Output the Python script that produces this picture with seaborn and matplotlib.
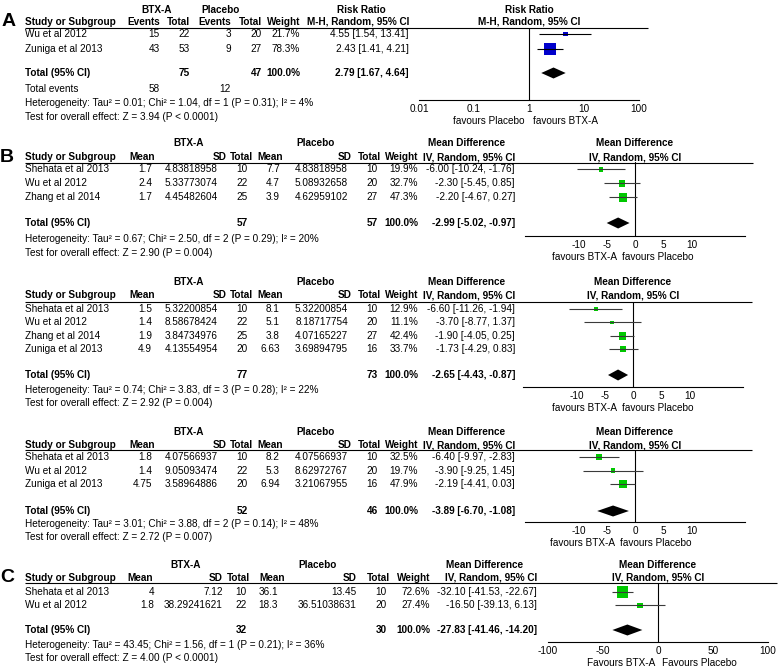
import matplotlib
matplotlib.use("Agg")
import matplotlib.pyplot as plt
import numpy as np
import pandas as pd
import seaborn as sns

# -----------------------------
# Data
# -----------------------------
# A: risk ratio
a_studies = ["Wu et al 2012", "Zuniga et al 2013"]
a_btx_events = [15, 43]
a_btx_total = [22, 53]
a_pla_events = [3, 9]
a_pla_total = [20, 27]
a_weight = [21.7, 78.3]
a_est = [4.55, 2.43]
a_lo = [1.54, 1.41]
a_hi = [13.41, 4.21]
a_pooled = [2.79, 1.67, 4.64]
a_het = "Heterogeneity: Tau² = 0.01; Chi² = 1.04, df = 1 (P = 0.31); I² = 4%"
a_test = "Test for overall effect: Z = 3.94 (P < 0.0001)"
a_ticks = [0.01, 0.1, 1, 10, 100]
a_tick_labels = ["0.01", "0.1", "1", "10", "100"]

# B (first block)
b1_studies = ["Shehata et al 2013", "Wu et al 2012", "Zhang et al 2014"]
b1_btx_mean = [1.7, 2.4, 1.7]
b1_btx_sd = [4.83818958, 5.33773074, 4.45482604]
b1_btx_n = [10, 22, 25]
b1_pla_mean = [7.7, 4.7, 3.9]
b1_pla_sd = [4.83818958, 5.08932658, 4.62959102]
b1_pla_n = [10, 20, 27]
b1_weight = [19.9, 32.7, 47.3]
b1_est = [-6.00, -2.30, -2.20]
b1_lo = [-10.24, -5.45, -4.67]
b1_hi = [-1.76, 0.85, 0.27]
b1_pooled = [-2.99, -5.02, -0.97]
b1_het = "Heterogeneity: Tau² = 0.67; Chi² = 2.50, df = 2 (P = 0.29); I² = 20%"
b1_test = "Test for overall effect: Z = 2.90 (P = 0.004)"

# B (second block)
b2_studies = ["Shehata et al 2013", "Wu et al 2012", "Zhang et al 2014", "Zuniga et al 2013"]
b2_btx_mean = [1.5, 1.4, 1.9, 4.9]
b2_btx_sd = [5.32200854, 8.58678424, 3.84734976, 4.13554954]
b2_btx_n = [10, 22, 25, 20]
b2_pla_mean = [8.1, 5.1, 3.8, 6.63]
b2_pla_sd = [5.32200854, 8.18717754, 4.07165227, 3.69894795]
b2_pla_n = [10, 20, 27, 16]
b2_weight = [12.9, 11.1, 42.4, 33.7]
b2_est = [-6.60, -3.70, -1.90, -1.73]
b2_lo = [-11.26, -8.77, -4.05, -4.29]
b2_hi = [-1.94, 1.37, 0.25, 0.83]
b2_pooled = [-2.65, -4.43, -0.87]
b2_het = "Heterogeneity: Tau² = 0.74; Chi² = 3.83, df = 3 (P = 0.28); I² = 22%"
b2_test = "Test for overall effect: Z = 2.92 (P = 0.004)"

# B (third block)
b3_studies = ["Shehata et al 2013", "Wu et al 2012", "Zuniga et al 2013"]
b3_btx_mean = [1.8, 1.4, 4.75]
b3_btx_sd = [4.07566937, 9.05093474, 3.58964886]
b3_btx_n = [10, 22, 20]
b3_pla_mean = [8.2, 5.3, 6.94]
b3_pla_sd = [4.07566937, 8.62972767, 3.21067955]
b3_pla_n = [10, 20, 16]
b3_weight = [32.5, 19.7, 47.9]
b3_est = [-6.40, -3.90, -2.19]
b3_lo = [-9.97, -9.25, -4.41]
b3_hi = [-2.83, 1.45, 0.03]
b3_pooled = [-3.89, -6.70, -1.08]
b3_het = "Heterogeneity: Tau² = 3.01; Chi² = 3.88, df = 2 (P = 0.14); I² = 48%"
b3_test = "Test for overall effect: Z = 2.72 (P = 0.007)"

b_ticks = [-10, -5, 0, 5, 10]

# C
c_studies = ["Shehata et al 2013", "Wu et al 2012"]
c_btx_mean = [4, 1.8]
c_btx_sd = [7.12, 38.29241621]
c_btx_n = [10, 22]
c_pla_mean = [36.1, 18.3]
c_pla_sd = [13.45, 36.51038631]
c_pla_n = [10, 20]
c_weight = [72.6, 27.4]
c_est = [-32.10, -16.50]
c_lo = [-41.53, -39.13]
c_hi = [-22.67, 6.13]
c_pooled = [-27.83, -41.46, -14.20]
c_het = "Heterogeneity: Tau² = 43.45; Chi² = 1.56, df = 1 (P = 0.21); I² = 36%"
c_test = "Test for overall effect: Z = 4.00 (P < 0.0001)"
c_ticks = [-100, -50, 0, 50, 100]

# -----------------------------
# Figure setup
# -----------------------------
W, H, DPI = 778, 671, 100
FS = 7.2
BLUE = "#0000CC"
GREEN = "#00C800"

sns.set_style("white")
plt.rcParams["font.family"] = ["Liberation Sans", "DejaVu Sans"]
plt.rcParams["text.color"] = "black"
plt.rcParams["xtick.color"] = "black"
plt.rcParams["axes.edgecolor"] = "black"

fig = plt.figure(figsize=(W / DPI, H / DPI), dpi=DPI)
bg = fig.add_axes([0, 0, 1, 1])
bg.set_xlim(0, W)
bg.set_ylim(H, 0)
bg.axis("off")


def txt(x, y, s, ha="right", bold=False, size=FS):
    bg.text(x, y, s, ha=ha, va="center", fontsize=size,
            fontweight="bold" if bold else "normal")


def hline(y, x0, x1):
    bg.plot([x0, x1], [y, y], color="black", lw=0.8, solid_capstyle="butt")


def study_frame(est, lo, hi, weight):
    df = pd.DataFrame({"est": est, "lo": lo, "hi": hi, "weight": weight})
    df["row"] = np.arange(len(df))
    side_px = 2 + 0.13 * df["weight"]
    df["area"] = (side_px * 72 / DPI) ** 2
    return df


def forest(fx, lay, df, pooled, ticks, labels, ref, color, ci_color, log=False):
    x0, x1 = fx
    top, bot = lay["line"], lay["axis"]
    ax = fig.add_axes([x0 / W, 1 - bot / H, (x1 - x0) / W, (bot - top) / H])
    ax.set_facecolor("none")
    if log:
        ax.set_xscale("log")
    ax.axvline(ref, color="black", lw=0.8)
    ax.hlines(df["row"], df["lo"], df["hi"], color=ci_color, lw=0.8)
    sns.scatterplot(data=df, x="est", y="row", marker="s", s=df["area"].to_numpy(),
                    color=color, edgecolor=color, linewidth=0, legend=False, ax=ax)
    r_tot = (lay["total"] - lay["y0"]) / lay["pitch"]
    hh = 5.5 / lay["pitch"]
    est, lo, hi = pooled
    ax.fill([lo, est, hi, est], [r_tot, r_tot - hh, r_tot, r_tot + hh], color="black", lw=0)

    ax.set_ylim((bot - lay["y0"]) / lay["pitch"], (top - lay["y0"]) / lay["pitch"])
    ax.set_xlim(lay["xlim"])
    for side in ["top", "left", "right"]:
        ax.spines[side].set_visible(False)
    ax.spines["bottom"].set_linewidth(0.8)
    ax.set_yticks([])
    ax.set_xticks(ticks)
    ax.set_xticklabels(labels)
    ax.minorticks_off()
    ax.set_xlabel("")
    ax.set_ylabel("")
    ax.tick_params(axis="x", direction="inout", length=5, width=0.8, pad=0.3, labelsize=FS)
    return ax


# -----------------------------
# Panel A
# -----------------------------
la = dict(grp=10, hdr=22, line=27.5, y0=34, pitch=15, total=73, events=89,
          het=103, test=117, axis=100, fav=121, xlim=(0.01, 100))

txt(2, 21, "A", ha="left", bold=True, size=14)
txt(157, la["grp"], "BTX-A", ha="center", bold=True)
txt(221, la["grp"], "Placebo", ha="center", bold=True)
txt(361, la["grp"], "Risk Ratio", ha="center", bold=True)
txt(529, la["grp"], "Risk Ratio", ha="center", bold=True)
a_heads = ["Events", "Total", "Events", "Total", "Weight", "M-H, Random, 95% CI"]
a_cols = [160, 190, 231, 262, 300, 409]
txt(25, la["hdr"], "Study or Subgroup", ha="left", bold=True)
for x, h in zip(a_cols, a_heads):
    txt(x, la["hdr"], h, bold=True)
txt(529, la["hdr"], "M-H, Random, 95% CI", ha="center", bold=True)
hline(la["line"], 25, 648)

for i, s in enumerate(a_studies):
    y = la["y0"] + la["pitch"] * i
    vals = [a_btx_events[i], a_btx_total[i], a_pla_events[i], a_pla_total[i],
            f"{a_weight[i]:.1f}%", f"{a_est[i]:.2f} [{a_lo[i]:.2f}, {a_hi[i]:.2f}]"]
    txt(25, y, s, ha="left")
    for x, v in zip(a_cols, vals):
        txt(x, y, str(v))

txt(25, la["total"], "Total (95% CI)", ha="left", bold=True)
txt(a_cols[1], la["total"], str(sum(a_btx_total)), bold=True)
txt(a_cols[3], la["total"], str(sum(a_pla_total)), bold=True)
txt(a_cols[4], la["total"], "100.0%", bold=True)
txt(a_cols[5], la["total"], f"{a_pooled[0]:.2f} [{a_pooled[1]:.2f}, {a_pooled[2]:.2f}]", bold=True)
txt(25, la["events"], "Total events", ha="left")
txt(a_cols[0], la["events"], str(sum(a_btx_events)))
txt(a_cols[2], la["events"], str(sum(a_pla_events)))
txt(25, la["het"], a_het, ha="left")
txt(25, la["test"], a_test, ha="left")

a_df = study_frame(a_est, a_lo, a_hi, a_weight)
forest((419, 639), la, a_df, a_pooled, a_ticks, a_tick_labels, 1, BLUE, "black", log=True)
txt(525, la["fav"], "favours Placebo")
txt(533, la["fav"], "favours BTX-A", ha="left")

# -----------------------------
# Mean difference panels (B and C)
# -----------------------------
MD_HEADS = ["Mean", "SD", "Total", "Mean", "SD", "Total", "Weight", "IV, Random, 95% CI"]


def md_panel(studies, m1, sd1, n1, m2, sd2, n2, weight, est, lo, hi, pooled, het, test,
             lay, cols, heads, groups, fx, ref_x, line_end, ticks, fav, fav_labels, letter=None):
    if letter:
        txt(0, lay["hdr"], letter, ha="left", bold=True, size=14)
    txt(groups[0], lay["grp"], "BTX-A", ha="center", bold=True)
    txt(groups[1], lay["grp"], "Placebo", ha="center", bold=True)
    txt(groups[2], lay["grp"], "Mean Difference", ha="center", bold=True)
    txt(ref_x, lay["grp"], "Mean Difference", ha="center", bold=True)
    txt(25, lay["hdr"], "Study or Subgroup", ha="left", bold=True)
    for x, h in zip(heads, MD_HEADS):
        txt(x, lay["hdr"], h, bold=True)
    txt(ref_x, lay["hdr"], "IV, Random, 95% CI", ha="center", bold=True)
    hline(lay["line"], 25, line_end)

    for i, s in enumerate(studies):
        y = lay["y0"] + lay["pitch"] * i
        vals = [f"{m1[i]:g}", str(sd1[i]), str(n1[i]), f"{m2[i]:g}", str(sd2[i]), str(n2[i]),
                f"{weight[i]:.1f}%", f"{est[i]:.2f} [{lo[i]:.2f}, {hi[i]:.2f}]"]
        txt(25, y, s, ha="left")
        for x, v in zip(cols, vals):
            txt(x, y, v)

    txt(25, lay["total"], "Total (95% CI)", ha="left", bold=True)
    txt(cols[2], lay["total"], str(sum(n1)), bold=True)
    txt(cols[5], lay["total"], str(sum(n2)), bold=True)
    txt(cols[6], lay["total"], "100.0%", bold=True)
    txt(cols[7], lay["total"], f"{pooled[0]:.2f} [{pooled[1]:.2f}, {pooled[2]:.2f}]", bold=True)
    txt(25, lay["het"], het, ha="left")
    txt(25, lay["test"], test, ha="left")

    df = study_frame(est, lo, hi, weight)
    forest(fx, lay, df, pooled, ticks, [str(t) for t in ticks], 0, GREEN, "#3a3a3a")
    txt(fav[0], lay["fav"], fav_labels[0])
    txt(fav[1], lay["fav"], fav_labels[1], ha="left")


B_COLS = [152, 218, 248, 280, 348, 378, 418, 515]
B_HEAD = [155, 227, 253, 283, 352, 381, 418, 515]
B_GROUPS = [189, 316, 467]
B_FAV = ["favours BTX-A", "favours Placebo"]

lb1 = dict(grp=143, hdr=157, line=162.5, y0=169.5, pitch=14, total=223, het=239, test=253,
           axis=236, fav=257, xlim=(-19.5, 19.5))
md_panel(b1_studies, b1_btx_mean, b1_btx_sd, b1_btx_n, b1_pla_mean, b1_pla_sd, b1_pla_n,
         b1_weight, b1_est, b1_lo, b1_hi, b1_pooled, b1_het, b1_test,
         lb1, B_COLS, B_HEAD, B_GROUPS, (525, 745), 635, 753, b_ticks, (617, 622), B_FAV, letter="B")

lb2 = dict(grp=282, hdr=295, line=302, y0=309, pitch=13.4, total=375, het=390, test=403,
           axis=387, fav=408, xlim=(-19.5, 19.5))
md_panel(b2_studies, b2_btx_mean, b2_btx_sd, b2_btx_n, b2_pla_mean, b2_pla_sd, b2_pla_n,
         b2_weight, b2_est, b2_lo, b2_hi, b2_pooled, b2_het, b2_test,
         lb2, B_COLS, B_HEAD, B_GROUPS, (523, 743), 633, 752, b_ticks, (617, 622), B_FAV)

lb3 = dict(grp=432, hdr=445, line=450, y0=457, pitch=13.5, total=511, het=524, test=537,
           axis=522, fav=543, xlim=(-19.5, 19.5))
md_panel(b3_studies, b3_btx_mean, b3_btx_sd, b3_btx_n, b3_pla_mean, b3_pla_sd, b3_pla_n,
         b3_weight, b3_est, b3_lo, b3_hi, b3_pooled, b3_het, b3_test,
         lb3, B_COLS, B_HEAD, B_GROUPS, (525, 745), 635, 752, b_ticks, (615, 620), B_FAV)

lc = dict(grp=565, hdr=578, line=582.5, y0=592, pitch=13.3, total=630, het=645, test=658,
          axis=642, fav=663, xlim=(-100, 100))
md_panel(c_studies, c_btx_mean, c_btx_sd, c_btx_n, c_pla_mean, c_pla_sd, c_pla_n,
         c_weight, c_est, c_lo, c_hi, c_pooled, c_het, c_test,
         lc, [154, 223, 247, 278, 357, 387, 430, 537], [153, 223, 250, 285, 357, 390, 430, 537],
         [186, 318, 485], (548, 768), 658, 777, c_ticks, (655, 662),
         ["Favours BTX-A", "Favours Placebo"], letter="C")

fig.savefig("out.png", dpi=DPI)
plt.close(fig)
